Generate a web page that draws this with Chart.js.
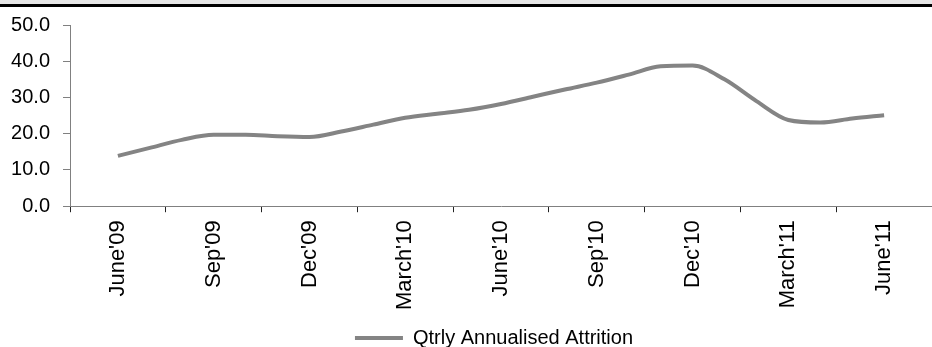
<!DOCTYPE html>
<html>
<head>
<meta charset="utf-8">
<script src="https://cdn.jsdelivr.net/npm/chart.js@4"></script>
<style>
  html, body { margin: 0; padding: 0; background: #fff; overflow: hidden; }
  #wrap { position: relative; width: 932px; height: 347px; overflow: hidden; }
  #band { position: absolute; left: 0; top: 0; width: 932px; height: 4px; background: #e6e6e6; border-bottom: 3px solid #000; z-index: 2; }
  canvas { position: absolute; left: 0; top: 0; }
</style>
</head>
<body>
<div id="wrap">
  <div id="band"></div>
  <canvas id="attritionChart" width="932" height="358"></canvas>
</div>
<script>
// quarter labels shown on the axis
const quarterLabels = ["June'09", "Sep'09", "Dec'09", "March'10", "June'10", "Sep'10", "Dec'10", "March'11", "June'11"];
// monthly values, June'09 .. June'11
const monthlyAttrition = [
    13.9, 16.1, 18.3, 19.7, 19.7, 19.3, 19.1, 20.6, 22.5, 24.4, 25.5, 26.6, 28.2,
    30.2, 32.2, 34.1, 36.3, 38.6, 38.8, 35.0, 29.0, 23.8, 23.1, 24.2, 25.1
];
const seriesName = 'Qtrly Annualised Attrition';
const yTicks = [0, 10, 20, 30, 40, 50];

Chart.defaults.font.family = '"Liberation Sans", Arial, sans-serif';
Chart.defaults.font.size = 20;
Chart.defaults.color = '#000';

// legend sits a little right of the canvas centre, like the original
const legendShift = {
    id: 'legendShift',
    afterLayout(chart) {
        chart.legend.left += 28;
        chart.legend.right += 28;
    }
};

const ctx = document.getElementById('attritionChart').getContext('2d');
new Chart(ctx, {
    type: 'line',
    data: {
        datasets: [{
            label: seriesName,
            data: monthlyAttrition.map((v, i) => ({ x: i, y: v })),
            xAxisID: 'xm',
            borderColor: '#848484',
            backgroundColor: '#848484',
            borderWidth: 4,
            pointRadius: 0,
            tension: 0.4,
            cubicInterpolationMode: 'monotone',
            fill: false
        }]
    },
    plugins: [legendShift],
    options: {
        responsive: false,
        animation: false,
        layout: { padding: { left: 0, right: 0, top: 22, bottom: 0 } },
        plugins: {
            legend: {
                position: 'bottom',
                labels: {
                    boxWidth: 48,
                    boxHeight: 4,
                    padding: 10,
                    generateLabels: chart => Chart.defaults.plugins.legend.labels.generateLabels(chart)
                        .map(l => Object.assign(l, { lineWidth: 0 }))
                }
            },
            tooltip: { enabled: false }
        },
        scales: {
            x: {
                type: 'category',
                labels: quarterLabels,
                offset: true,
                grid: { offset: true, drawOnChartArea: false, tickLength: 6, color: '#222' },
                border: { color: '#808080', width: 1 },
                ticks: { minRotation: 90, maxRotation: 90, padding: 8, font: { size: 22 } }
            },
            xm: {
                type: 'linear',
                min: -1.5,
                max: quarterLabels.length * 3 - 1.5,
                display: false
            },
            y: {
                min: 0,
                max: 50,
                afterBuildTicks: axis => { axis.ticks = yTicks.map(v => ({ value: v })); },
                afterFit: axis => { axis.width = 70; },
                grid: { drawOnChartArea: false, tickLength: 7, color: '#808080' },
                border: { color: '#808080', width: 1 },
                ticks: { padding: 13, callback: v => Number(v).toFixed(1) }
            }
        }
    }
});
</script>
</body>
</html>
